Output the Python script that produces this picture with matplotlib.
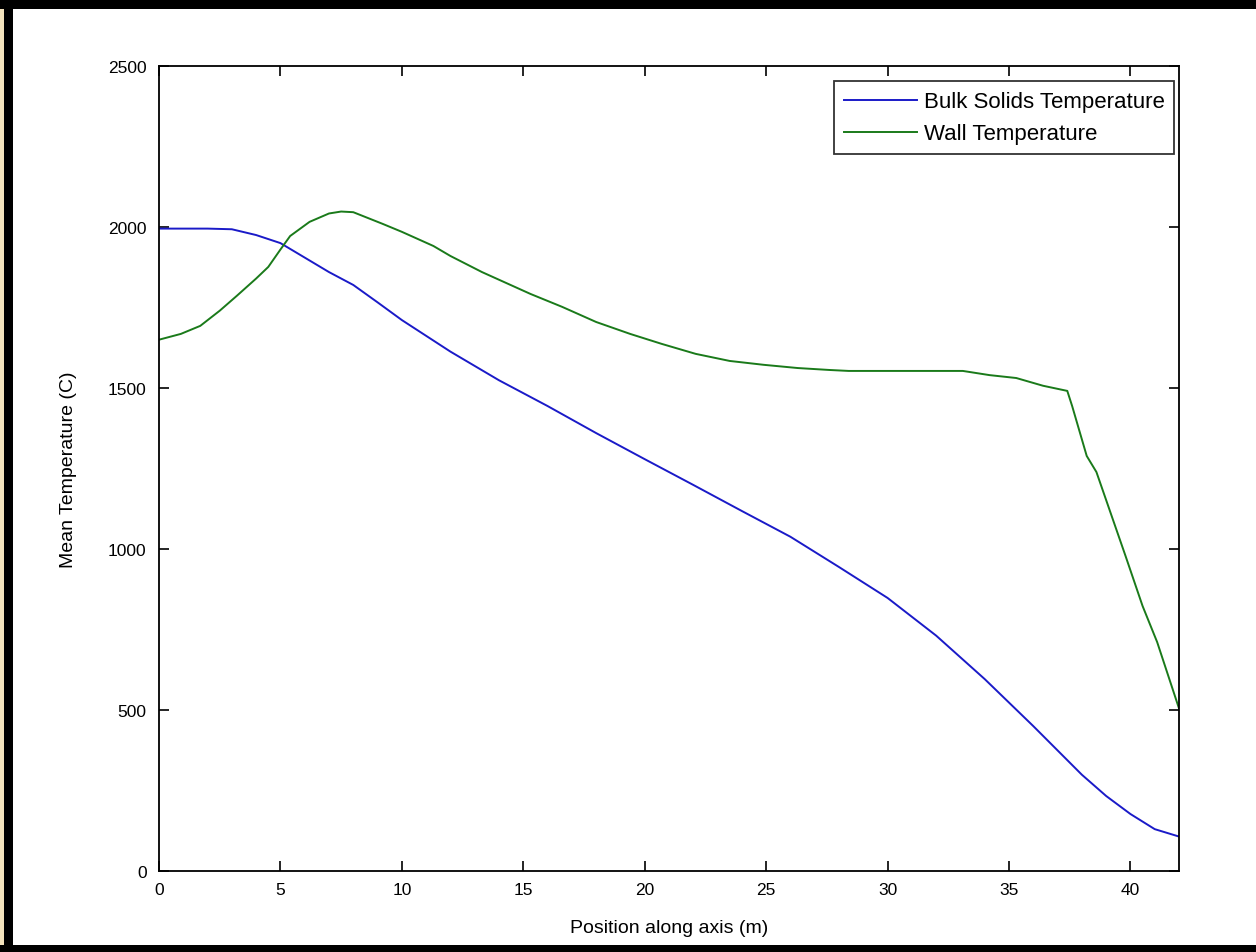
import matplotlib
matplotlib.use("Agg")
import matplotlib.pyplot as plt
from matplotlib.patches import Rectangle

# ---- data ----
bulk_x = [0, 1, 2, 3, 4, 5, 6, 7, 8, 9, 10, 12, 14, 16, 18, 20, 22, 24, 26,
          28, 30, 32, 34, 36, 38, 39, 40, 41, 42]
bulk_y = [1995, 1995, 1995, 1993, 1975, 1950, 1905, 1860, 1820, 1766, 1711,
          1613, 1524, 1444, 1360, 1279, 1199, 1118, 1038, 944, 848, 731, 596,
          450, 299, 233, 177, 130, 107]

wall_x = [0, 0.9, 1.7, 2.5, 3.2, 4.0, 4.5, 5.0, 5.4, 6.2, 7.0, 7.5, 8.0, 9.2,
          10, 11.3, 12, 13.3, 15.3, 16.6, 18, 19.4, 20.7, 22.1, 23.5, 24.9,
          26.3, 27.6, 28.4, 33.1, 34.2, 35.3, 36.4, 37.4, 37.6, 38.2, 38.6,
          39.8, 40.5, 41.1, 42]
wall_y = [1650, 1668, 1693, 1740, 1786, 1840, 1876, 1930, 1972, 2016, 2042,
          2048, 2046, 2010, 1985, 1941, 1910, 1860, 1792, 1752, 1705, 1668,
          1637, 1606, 1584, 1572, 1562, 1556, 1553, 1553, 1540, 1531, 1507,
          1491, 1444, 1289, 1239, 978, 823, 711, 505]

series_labels = ["Bulk Solids Temperature", "Wall Temperature"]
x_ticks = [0, 5, 10, 15, 20, 25, 30, 35, 40]
y_ticks = [0, 500, 1000, 1500, 2000, 2500]
x_label = "Position along axis (m)"
y_label = "Mean Temperature (C)"

plt.rcParams['font.family'] = ['Liberation Sans', 'DejaVu Sans']

fig = plt.figure(figsize=(12.56, 9.53), dpi=100)
fig.patch.set_facecolor("white")

W, H = 1256, 953
# frame decorations (figure coords)
fig.patches.append(Rectangle((0, 0), 4 / W, 1, transform=fig.transFigure,
                             facecolor="#f3e3bd", edgecolor="none", zorder=0))
fig.patches.append(Rectangle((4 / W, 0), 9 / W, 1, transform=fig.transFigure,
                             facecolor="black", edgecolor="none", zorder=0))
fig.patches.append(Rectangle((0, 1 - 10 / H), 1, 10 / H, transform=fig.transFigure,
                             facecolor="black", edgecolor="none", zorder=0))
fig.patches.append(Rectangle((0, 1 - 1 / H), 1, 1 / H, transform=fig.transFigure,
                             facecolor="#f0d8c0", edgecolor="none", zorder=1))
fig.patches.append(Rectangle((0, 0), 1, 7 / H, transform=fig.transFigure,
                             facecolor="black", edgecolor="none", zorder=0))

left, right = 159 / W, 1179 / W
bottom, top = 1 - 872 / H, 1 - 67 / H
ax = fig.add_axes([left, bottom, right - left, top - bottom])

ax.plot(bulk_x, bulk_y, color="#1a1ac8", lw=1.4, label=series_labels[0])
ax.plot(wall_x, wall_y, color="#1a7a1a", lw=1.4, label=series_labels[1])

ax.set_xlim(0, 42)
ax.set_ylim(0, 2500)
ax.set_xticks(x_ticks)
ax.set_yticks(y_ticks)
ax.tick_params(direction="in", length=7, width=1.2, top=True, right=True,
               labelsize=12.5, colors="black")
ax.tick_params(axis="y", pad=9)
ax.tick_params(axis="x", pad=8)
for s in ax.spines.values():
    s.set_linewidth(1.3)

ax.set_xlabel(x_label, fontsize=14, labelpad=16)
ax.set_ylabel(y_label, fontsize=14, labelpad=22)

leg = ax.legend(loc="upper right", bbox_to_anchor=(0.9955, 0.981),
                frameon=True, fancybox=False, fontsize=16,
                handlelength=3.3, handletextpad=0.3, borderpad=0.45,
                labelspacing=0.5, borderaxespad=0)
leg.get_frame().set_edgecolor("black")
leg.get_frame().set_linewidth(1.3)

fig.savefig("out.png", dpi=100)
